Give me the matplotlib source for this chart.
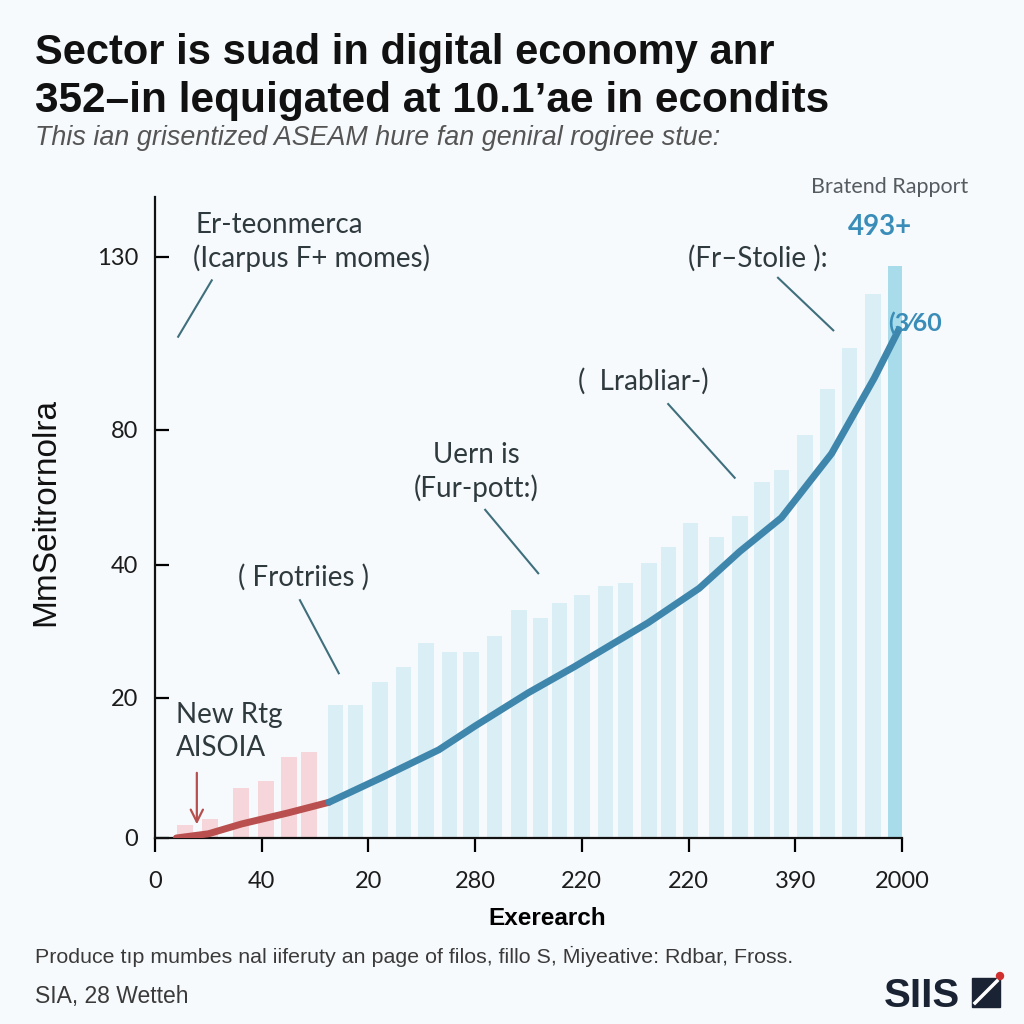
import matplotlib.pyplot as plt
import numpy as np
from matplotlib.patches import Rectangle, Circle
from matplotlib.lines import Line2D

# tick labels as printed on the chart
x_labels = ["0", "40", "20", "280", "220", "220", "390", "2000"]
y_ticks = [0, 20, 40, 80, 130]

# the y axis is not linear: tick value -> relative height on the axis
scale_values = [0, 20, 40, 80, 130, 160]
scale_heights = [0, 140, 273, 408, 581, 685]

# early (red) bars
early_x = [0.28, 0.52, 0.81, 1.04, 1.26, 1.44]
early_values = [1.9, 2.7, 7.1, 8.1, 11.6, 12.3]

# later (blue) bars, the last one is highlighted
later_x = [1.69, 1.88, 2.11, 2.33, 2.54, 2.76, 2.96, 3.18, 3.41, 3.61,
           3.79, 4.00, 4.22, 4.41, 4.63, 4.81, 5.02, 5.26, 5.48, 5.69,
           5.87, 6.09, 6.30, 6.51, 6.73, 6.94]
later_values = [19.0, 19.0, 22.4, 24.7, 28.3, 26.9, 26.9, 29.3, 33.2, 32.0,
                34.3, 35.5, 36.8, 37.3, 40.6, 45.3, 52.4, 48.3, 54.5, 64.6,
                68.1, 78.5, 91.8, 103.7, 119.3, 127.4]

# trend lines
red_x = [0.20, 0.50, 0.81, 1.25, 1.63]
red_y = [0.0, 0.6, 2.0, 3.6, 5.1]
blue_x = [1.63, 2.12, 2.66, 3.00, 3.50, 3.93, 4.62, 5.10, 5.48, 5.87, 6.34, 6.74, 6.97]
blue_y = [5.1, 8.6, 12.6, 16.0, 20.8, 24.7, 31.3, 36.5, 44.0, 54.0, 73.0, 95.0, 109.0]

BG = "#f7fafc"
TEXT = "#2f3a3f"
LEADER = "#3f6f7d"
SANS = ["Liberation Sans", "DejaVu Sans"]


def fwd(v):
    return np.interp(v, scale_values, scale_heights)


def inv(h):
    return np.interp(h, scale_heights, scale_values)


fig = plt.figure(figsize=(10.24, 10.24), dpi=100, facecolor=BG)
ax = fig.add_axes([155 / 1024, 186 / 1024, 747 / 1024, 641 / 1024], facecolor=BG)
ax.set_yscale("function", functions=(fwd, inv))

ax.bar(early_x, early_values, width=0.15, color="#f6d6da", zorder=1)
ax.bar(later_x[:-1], later_values[:-1], width=0.145, color="#daeef5", zorder=1)
ax.bar(later_x[-1:], later_values[-1:], width=0.15, color="#a9dcea", zorder=1)

ax.plot(red_x, red_y, color="#b9504f", lw=5, solid_capstyle="round", zorder=3)
ax.plot(blue_x, blue_y, color="#3f86ad", lw=5, solid_capstyle="round", zorder=3)

ax.set_xlim(0, 7)
ax.set_ylim(0, 147.3)
ax.set_xticks(range(len(x_labels)))
ax.set_xticklabels(x_labels)
ax.set_yticks(y_ticks)
ax.set_yticklabels([str(v) for v in y_ticks])
for lab in ax.get_xticklabels() + ax.get_yticklabels():
    lab.set_family("Lato")
    lab.set_fontsize(17)
    lab.set_color("#1c1c1c")
ax.tick_params(axis="x", direction="out", length=10, width=1.6, pad=14)
ax.tick_params(axis="y", direction="in", length=10, width=1.6, pad=12)
for s in ["top", "right"]:
    ax.spines[s].set_visible(False)
for s in ["left", "bottom"]:
    ax.spines[s].set_linewidth(1.6)
    ax.spines[s].set_color("#111111")

ax.set_xlabel("Exerearch", fontsize=17.5, fontweight="bold", family=SANS)
ax.xaxis.set_label_coords(0.525, -0.107)
ax.set_ylabel("MmSeitrornolra", fontsize=24, family=SANS, color="#111111")
ax.yaxis.set_label_coords(-0.125, 0.509)

# annotations with thin leader lines
notes = [
    ("Er-teonmerca", 0.054, 0.956, "left"),
    ("(Icarpus F+ momes)", 0.051, 0.905, "left"),
    ("(Fr\u2013Stolie ):", 0.714, 0.905, "left"),
    ("(  Lrabliar-)", 0.566, 0.713, "left"),
    ("Uern is", 0.430, 0.598, "center"),
    ("(Fur-pott:)", 0.430, 0.546, "center"),
    ("( Frotriies )", 0.111, 0.407, "left"),
    ("New Rtg", 0.028, 0.192, "left"),
    ("AISOIA", 0.028, 0.140, "left"),
]
for txt, x, y, ha in notes:
    ax.text(x, y, txt, transform=ax.transAxes, ha=ha, va="center", fontsize=20,
            family="Lato", color=TEXT, zorder=4)

leaders = [
    ((0.076, 0.870), (0.031, 0.782)),
    ((0.834, 0.874), (0.908, 0.792)),
    ((0.687, 0.677), (0.776, 0.562)),
    ((0.442, 0.512), (0.513, 0.413)),
    ((0.194, 0.371), (0.246, 0.257)),
]
for (x0, y0), (x1, y1) in leaders:
    ax.add_line(Line2D([x0, x1], [y0, y1], transform=ax.transAxes, color=LEADER, lw=1.5, zorder=4))

ax.annotate("", xy=(0.056, 0.017), xytext=(0.056, 0.106), xycoords="axes fraction",
            arrowprops=dict(arrowstyle="->", color="#b5504e", lw=1.6, mutation_scale=22), zorder=4)

ax.text(0.984, 1.016, "Bratend Rapport", transform=ax.transAxes, ha="center", va="center",
        fontsize=15.5, family="Lato", color="#555c61")
ax.text(0.971, 0.953, "493+", transform=ax.transAxes, ha="center", va="center",
        fontsize=20, fontweight="bold", family="Lato", color="#3a8db8", zorder=5)
ax.text(1.017, 0.803, "(3\u204460", transform=ax.transAxes, ha="center", va="center",
        fontsize=18, fontweight="bold", family="Lato", color="#3a8db8", zorder=5)
for t in ax.texts:
    t.set_clip_on(False)

# title block
fig.text(35 / 1024, 1 - 64 / 1024, "Sector is suad in digital economy anr",
         fontsize=30, fontweight="bold", family=SANS, color="#111111", va="baseline")
fig.text(35 / 1024, 1 - 112 / 1024, "352\u2013in lequigated at 10.1\u2019ae in econdits",
         fontsize=30.5, fontweight="bold", family=SANS, color="#111111", va="baseline")
fig.text(35 / 1024, 1 - 145 / 1024, "This ian grisentized ASEAM hure fan geniral rogiree stue:",
         fontsize=19.4, style="italic", family=SANS, color="#555555", va="baseline")

# footer
fig.text(35 / 1024, 1 - 963 / 1024,
         "Produce tıp mumbes nal iiferuty an page of filos, fillo S, Ṁiyeative: Rdbar, Fross.",
         fontsize=15.4, family=SANS, color="#3a3a3a", va="baseline")
fig.text(35 / 1024, 1 - 1003 / 1024, "SIA, 28 Wetteh",
         fontsize=16.5, family=SANS, color="#3a3a3a", va="baseline")

# logo
fig.text(884 / 1024, 1 - 1007 / 1024, "SIIS", fontsize=29, fontweight="bold", family=SANS,
         color="#1a2333", va="baseline")
fig.patches.append(Rectangle((972 / 1024, 1 - 1007 / 1024), 28 / 1024, 29 / 1024,
                             transform=fig.transFigure, color="#1a2333"))
fig.lines.append(Line2D([975 / 1024, 997 / 1024], [1 - 1003 / 1024, 1 - 981 / 1024],
                        transform=fig.transFigure, color="white", lw=2.5))
fig.patches.append(Circle((1000 / 1024, 1 - 976 / 1024), 3.5 / 1024,
                          transform=fig.transFigure, color="#d0302f"))

fig.savefig("out.png", dpi=100, facecolor=BG)
